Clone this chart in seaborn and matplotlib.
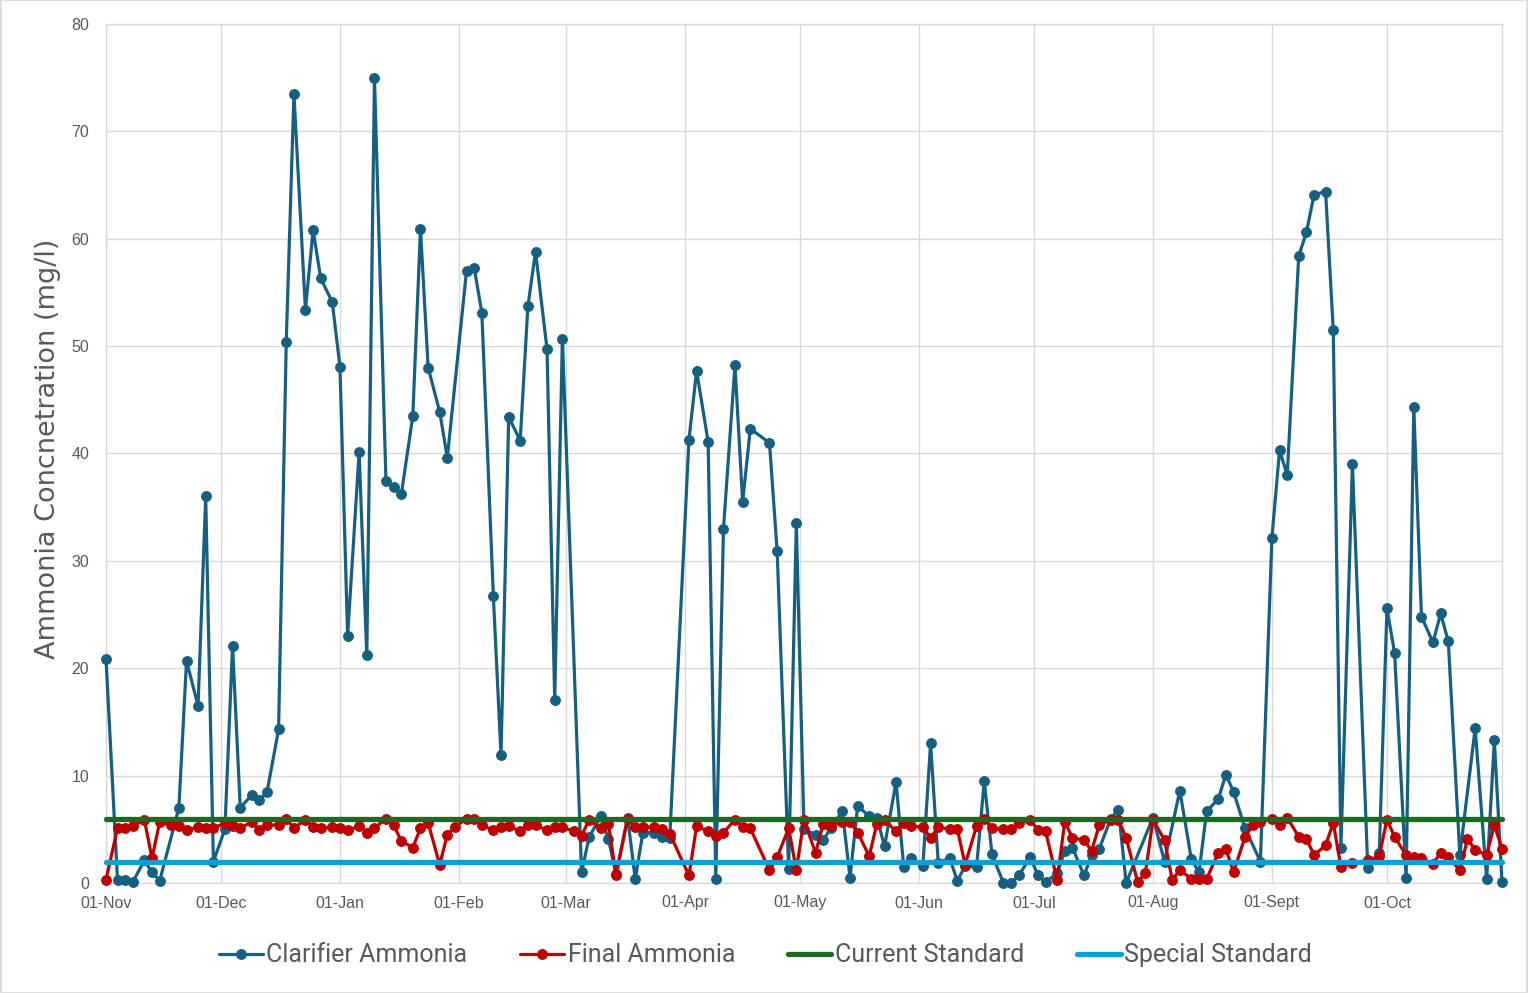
import numpy as np
import pandas as pd
import matplotlib
matplotlib.use('Agg')
import matplotlib.pyplot as plt
import seaborn as sns

nan = np.nan

# sampling days: Mon / Wed / Fri, Nov 2024 - Oct 2025
all_days = pd.date_range('2024-11-01', '2025-10-31', freq='D')
sample_dates = all_days[all_days.dayofweek.isin([0, 2, 4])]

month_ticks = pd.date_range('2024-11-01', periods=12, freq='MS')
month_labels = ['01-Nov', '01-Dec', '01-Jan', '01-Feb', '01-Mar', '01-Apr',
                '01-May', '01-Jun', '01-Jul', '01-Aug', '01-Sept', '01-Oct']

# clarifier ammonia (mg/l)
clarifier = [
    20.9, 0.3, 0.3, 0.1, 2.1, 1.0, 0.2, nan, 7.0, 20.7, 16.5, 36.0, 2.0,      # Nov
    5.0, 22.1, 7.0, 8.2, 7.7, 8.5, 14.3, 50.4, 73.5, 53.4, 60.8, 56.3, 54.1,  # Dec
    48.1, 23.0, 40.1, 21.2, 75.0, 37.4, 36.9, 36.2, 43.5, 60.9, 48.0, 43.9, 39.6, nan,  # Jan
    57.0, 57.3, 53.1, 26.7, 11.9, 43.4, 41.2, 53.7, 58.8, 49.7, 17.0, 50.7,  # Feb
    nan, 1.0, 4.3, 6.2, 4.1, 0.8, 6.1, 0.4, 4.7, 4.7, 4.3, 4.2, nan,          # Mar
    41.3, 47.7, 41.1, 0.4, 33.0, 48.2, 35.5, 42.3, nan, 41.0, 30.9, 1.3, 33.5,  # Apr
    5.0, 4.5, 4.0, 5.1, 6.7, 0.5, 7.2, 6.2, 6.1, 3.4, 9.4, 1.5, 2.3,          # May
    1.6, 13.0, 1.9, 2.3, 0.2, 1.6, 1.5, 9.5, 2.7, 0.0, 0.0, 0.7, 2.4,         # Jun
    0.7, 0.1, 0.9, 3.0, 3.3, 0.7, 2.6, 3.2, 6.0, 6.8, 0.0, nan, nan,          # Jul
    6.1, 2.0, nan, 8.6, 2.2, 1.0, 6.7, 7.8, 10.1, 8.5, 5.1, nan, 2.0,         # Aug
    32.1, 40.3, 38.0, 58.4, 60.6, 64.1, 64.4, 51.5, 3.3, 39.0, nan, 1.4, 2.8,  # Sep
    25.6, 21.4, 0.5, 44.3, 24.8, 22.4, 25.1, 22.5, 2.6, nan, 14.4, 0.4, 13.3, 0.1,  # Oct
]

# final ammonia (mg/l)
final = [
    0.3, 5.1, 5.1, 5.3, 5.9, 2.3, 5.7, 5.4, 5.3, 4.9, 5.2, 5.1, 5.1,
    5.6, 5.3, 5.1, 5.7, 4.9, 5.4, 5.4, 6.0, 5.1, 5.9, 5.2, 5.1, 5.2,
    5.1, 4.9, 5.3, 4.7, 5.1, 6.0, 5.4, 3.9, 3.3, 5.1, 5.6, 1.7, 4.5, 5.2,
    6.0, 6.0, 5.4, 4.9, 5.2, 5.3, 4.8, 5.4, 5.4, 4.9, 5.2, 5.2,
    4.8, 4.4, 5.9, 5.1, 5.5, 0.7, 6.0, 5.2, 5.2, 5.2, 5.0, 4.6, nan,
    0.7, 5.3, 4.8, 4.4, 4.7, 5.9, 5.2, 5.1, nan, 1.2, 2.4, 5.1, 1.2,
    5.9, 2.8, 5.5, 5.3, 5.7, 5.7, 4.7, 2.5, 5.5, 5.9, 4.8, 5.6, 5.3,
    5.2, 4.2, 5.2, 5.0, 5.0, 1.7, 5.3, 6.0, 5.1, 5.0, 5.0, 5.6, 5.9,
    4.9, 4.8, 0.3, 5.7, 4.2, 4.0, 3.0, 5.4, 5.9, 5.9, 4.2, 0.1, 0.9,
    5.9, 4.0, 0.3, 1.2, 0.4, 0.4, 0.4, 2.8, 3.2, 1.0, 4.3, 5.4, 5.7,
    6.0, 5.4, 6.1, 4.3, 4.1, 2.6, 3.5, 5.6, 1.5, 1.9, nan, 2.1, 2.5,
    5.9, 4.3, 2.6, 2.4, 2.3, 1.8, 2.8, 2.4, 1.2, 4.1, 3.1, 2.6, 5.4, 3.2,
]

current_standard = 6.0
special_standard = 2.0

df = pd.DataFrame({
    'date': sample_dates,
    'Clarifier Ammonia': clarifier,
    'Final Ammonia': final,
    'Current Standard': current_standard,
    'Special Standard': special_standard,
})

colors = {
    'Clarifier Ammonia': '#156082',
    'Final Ammonia': '#C00000',
    'Current Standard': '#196B24',
    'Special Standard': '#0F9ED5',
}

sns.set_theme(style='white')
plt.rcParams['font.family'] = ['Liberation Sans', 'DejaVu Sans']
text_grey = '#595959'
grid_grey = '#d9d9d9'

fig = plt.figure(figsize=(15.28, 9.93), dpi=100)
ax = fig.add_axes([106 / 1528, 110 / 993, (1502 - 106) / 1528, (883 - 24) / 993])

for name in ['Clarifier Ammonia', 'Final Ammonia']:
    d = df[['date', name]].dropna()
    sns.lineplot(data=d, x='date', y=name, ax=ax, color=colors[name], linewidth=2.3,
                 marker='o', markersize=7, markeredgecolor=colors[name],
                 markeredgewidth=0.8, label=name, zorder=3, clip_on=False)

for name in ['Current Standard', 'Special Standard']:
    sns.lineplot(data=df, x='date', y=name, ax=ax, color=colors[name],
                 linewidth=3.8, label=name, zorder=4, clip_on=False)

ax.set_ylim(0, 80)
ax.set_yticks(range(0, 81, 10))
ax.set_xlim(pd.Timestamp('2024-11-01'), pd.Timestamp('2025-10-31'))
ax.set_xticks(month_ticks)
ax.set_xticklabels(month_labels)
ax.grid(True, color=grid_grey, linewidth=1.0)
ax.set_axisbelow(True)
for s in ax.spines.values():
    s.set_color(grid_grey)
    s.set_linewidth(1.0)
ax.tick_params(axis='both', length=0, labelsize=11.5, labelcolor=text_grey)
ax.tick_params(axis='y', pad=12)
ax.tick_params(axis='x', pad=9)
ax.set_xlabel('')
ax.set_ylabel('Ammonia Concnetration (mg/l)', fontsize=19.5, color=text_grey,
              family=['DejaVu Sans'])
ax.yaxis.set_label_coords(-0.032, 0.505)

ax.get_legend().remove()
handles, labels = ax.get_legend_handles_labels()
fig.legend(handles, labels, loc='center', bbox_to_anchor=(0.501, 0.038), ncol=4,
           frameon=False, handlelength=1.75, columnspacing=2.1,
           handletextpad=0.15, labelcolor=text_grey,
           prop={'family': ['Roboto', 'DejaVu Sans'], 'size': 18})

fig.patches.append(plt.Rectangle((0.0005, 0.0005), 0.999, 0.999, transform=fig.transFigure,
                                 fill=False, edgecolor=grid_grey, linewidth=1.2))

fig.savefig('out.png', dpi=100)
